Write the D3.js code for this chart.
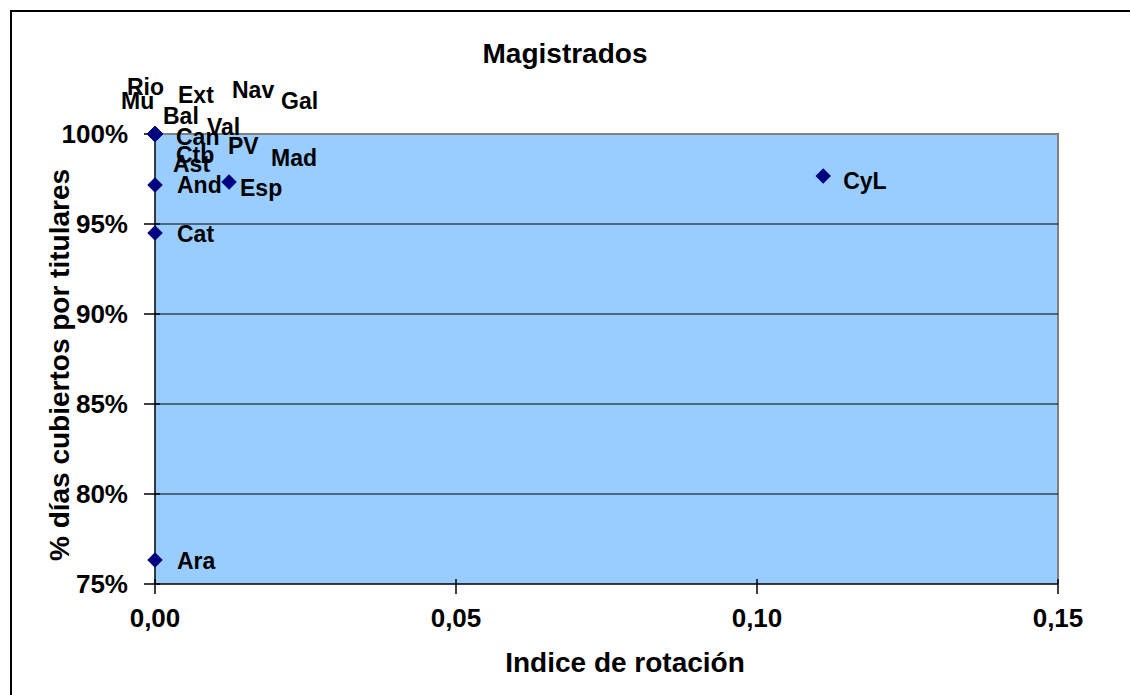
<!DOCTYPE html>
<html>
<head>
<meta charset="utf-8">
<script src="https://cdn.jsdelivr.net/npm/d3@7"></script>
<style>
  html, body { margin: 0; padding: 0; background: #ffffff; }
  svg { display: block; }
  text { font-family: "Liberation Sans", Arial, sans-serif; font-weight: bold; fill: #000; }
</style>
</head>
<body>
<svg id="chart" width="1130" height="695"></svg>
<script>
// ---- data ----
const regiones = ["Rio","Mu","Ext","Nav","Gal","Bal","Val","Can","PV","Ctb","Ast","Mad","And","Esp","Cat","Ara","CyL"];
const indiceRotacion = [0,0,0,0,0,0,0,0,0,0,0,0,0,0.0123,0,0,0.111];
const diasCubiertos = [1,1,1,1,1,1,1,1,1,1,1,1,0.9717,0.9733,0.945,0.7633,0.9767];
const xTicks = [0, 0.05, 0.10, 0.15];
const yTicks = [0.75, 0.80, 0.85, 0.90, 0.95, 1.00];
const titulo = "Magistrados";
const tituloX = "Indice de rotación";
const tituloY = "% días cubiertos por titulares";

// ---- label layout (pixel offsets from the marker; manual placements) ----
const labelOffset = {
  Rio:[-28,-39], Mu:[-34,-25], Ext:[23,-31], Nav:[77,-36], Gal:[126,-25],
  Bal:[8,-10], Val:[52,1], Can:[21,11], PV:[73,20], Ctb:[21,29], Ast:[18,38],
  Mad:[116,32], And:[22,8], Esp:[11,14], Cat:[22,9], Ara:[22,9], CyL:[20,13]
};

const svg = d3.select("#chart");
const L = 155, R = 1058, T = 134, B = 584;

const x = d3.scaleLinear().domain([0, 0.15]).range([L, R]);
const y = d3.scaleLinear().domain([0.75, 1.00]).range([B, T]);

// outer border
svg.append("rect").attr("x", 11).attr("y", 11).attr("width", 1130).attr("height", 700)
  .attr("fill", "#fff").attr("stroke", "#000").attr("stroke-width", 2);

// plot area
svg.append("rect").attr("x", L).attr("y", T).attr("width", R - L).attr("height", B - T)
  .attr("fill", "#99CCFF");
svg.append("path").attr("d", `M${L},${T}H${R}V${B}`).attr("fill", "none")
  .attr("stroke", "#808080").attr("stroke-width", 2);

// gridlines
svg.append("g").selectAll("line").data(yTicks.filter(d => d > 0.75 && d < 1.0)).join("line")
  .attr("x1", L).attr("x2", R).attr("y1", d => y(d)).attr("y2", d => y(d))
  .attr("stroke", "#000").attr("stroke-width", 1.2);

// axes lines
svg.append("line").attr("x1", L).attr("x2", L).attr("y1", T).attr("y2", B + 1)
  .attr("stroke", "#000").attr("stroke-width", 1.5);
svg.append("line").attr("x1", L).attr("x2", R).attr("y1", B).attr("y2", B)
  .attr("stroke", "#000").attr("stroke-width", 1.5);

// ticks (cross)
svg.append("g").selectAll("line").data(yTicks).join("line")
  .attr("x1", L - 11).attr("x2", L + 5).attr("y1", d => y(d)).attr("y2", d => y(d))
  .attr("stroke", "#000").attr("stroke-width", 1.5);
svg.append("g").selectAll("line").data(xTicks).join("line")
  .attr("x1", d => x(d)).attr("x2", d => x(d)).attr("y1", B - 5).attr("y2", B + 10)
  .attr("stroke", "#000").attr("stroke-width", 1.5);

// tick labels
const fmtY = d => d3.format(".0%")(d);
svg.append("g").selectAll("text").data(yTicks).join("text")
  .attr("x", L - 27).attr("y", d => y(d) + 9).attr("text-anchor", "end")
  .style("font-size", "26px").text(fmtY);
const fmtX = d => d3.format(".2f")(d).replace(".", ",");
svg.append("g").selectAll("text").data(xTicks).join("text")
  .attr("x", d => x(d)).attr("y", 627).attr("text-anchor", "middle")
  .style("font-size", "26px").text(fmtX);

// titles
svg.append("text").attr("x", 565).attr("y", 63).attr("text-anchor", "middle")
  .style("font-size", "28px").text(titulo);
svg.append("text").attr("x", 625).attr("y", 672).attr("text-anchor", "middle")
  .style("font-size", "28px").text(tituloX);
svg.append("text").attr("transform", "translate(69,365) rotate(-90)").attr("text-anchor", "middle")
  .style("font-size", "28px").text(tituloY);

// points
const pts = regiones.map((n, i) => ({ n, xv: indiceRotacion[i], yv: diasCubiertos[i] }));
const sym = d3.symbol().type(d3.symbolSquare).size(120);
svg.append("g").selectAll("path").data(pts).join("path")
  .attr("d", sym)
  .attr("transform", d => `translate(${x(d.xv)},${y(d.yv)}) rotate(45)`)
  .attr("fill", "#000080");

// labels
svg.append("g").selectAll("text").data(pts).join("text")
  .attr("x", d => x(d.xv) + labelOffset[d.n][0])
  .attr("y", d => y(d.yv) + labelOffset[d.n][1])
  .style("font-size", "23px").text(d => d.n);
</script>
</body>
</html>
